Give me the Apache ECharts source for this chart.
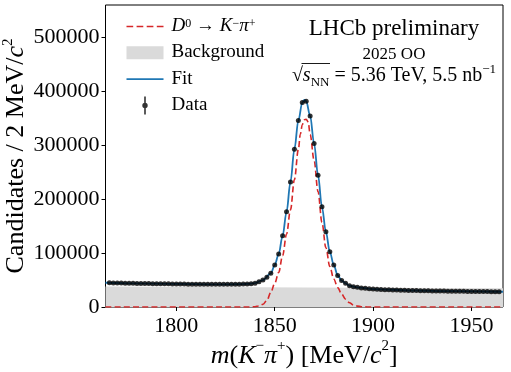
<!DOCTYPE html>
<html><head><meta charset="utf-8">
<script src="https://cdn.jsdelivr.net/npm/echarts@6/dist/echarts.min.js"></script>
<style>html,body{margin:0;padding:0;background:#fff}#c{width:511px;height:372px}</style>
</head><body><div id="c"></div>
<script>
// ---- data ----
const massBins = [1766,1768,1770,1772,1774,1776,1778,1780,1782,1784,1786,1788,1790,1792,1794,1796,1798,1800,
1802,1804,1806,1808,1810,1812,1814,1816,1818,1820,1822,1824,1826,1828,1830,1832,1834,1836,1838,1840,
1842,1844,1846,1848,1850,1852,1854,1856,1858,1860,1862,1864,1866,1868,1870,1872,1874,1876,1878,1880,
1882,1884,1886,1888,1890,1892,1894,1896,1898,1900,1902,1904,1906,1908,1910,1912,1914,1916,1918,1920,
1922,1924,1926,1928,1930,1932,1934,1936,1938,1940,1942,1944,1946,1948,1950,1952,1954,1956,1958,1960,1962,1964];
const counts = [44800,44600,44400,44300,44100,44000,43900,43700,43600,43500,43400,43300,43200,43100,43000,42900,42800,42700,
42600,42500,42400,42300,42200,42200,42100,42100,42000,42000,42000,42000,42000,42100,42200,42300,42500,42700,43100,44200,
46600,50000,55000,62400,77800,98100,132000,176500,232000,292600,345700,379100,381500,354300,303100,244400,185700,139400,102400,77800,
58500,49000,43900,39400,37600,36500,35400,34600,33900,33300,32900,32500,32200,31900,31600,31400,31200,31000,30800,30600,
30400,30300,30100,30000,29900,29700,29600,29500,29400,29300,29200,29100,29000,28900,28800,28800,28700,28600,28600,28500,28400,28400];

const fitMass = [1764,1780,1800,1820,1830,1836,1840,1844,1848,1850,1852,1854,1856,1858,1860,1862,1864,1865,1866,1868,1870,1872,1874,1876,1878,1880,1882,1884,1886,1888,1892,1900,1920,1940,1966];
const fitVals = [45000,43700,42700,42000,42200,42700,44200,50000,62400,77800,98100,132000,176500,232000,292600,345700,379000,384000,381500,354300,303100,244400,185700,139400,102400,77800,58500,49000,43900,39400,36500,33300,30600,29300,28300];

const sigMass = [1764,1834,1838,1840,1842,1844,1846,1848,1850,1852,1854,1856,1858,1860,1862,1863,1864,1865,1866,1867,1868,1870,1872,1874,1876,1878,1880,1882,1884,1886,1888,1890,1892,1894,1896,1898,1966];
const sigVals = [0,0,100,600,2000,5000,12000,27000,44000,64000,95000,135000,180000,236000,292000,320000,338000,347000,348000,343000,320000,272000,214000,157000,110000,75000,52000,36000,24000,14500,8000,3800,1600,600,150,0,0];

const bkgMass = [1764,1866,1966];
const bkgVals = [37800,36000,35000];

const xTicks = [1800,1850,1900,1950];
const yTicks = [0,100000,200000,300000,400000,500000];

// ---- chart ----
const FONT = '"Liberation Serif","DejaVu Serif",serif';
function richSet(size, supSize, lh){
  return {
    n:{fontFamily:FONT,fontSize:size,color:'#000',lineHeight:lh,verticalAlign:'bottom'},
    i:{fontFamily:FONT,fontSize:size,fontStyle:'italic',color:'#000',lineHeight:lh,verticalAlign:'bottom'},
    sup:{fontFamily:FONT,fontSize:supSize,color:'#000',lineHeight:supSize,verticalAlign:'top'}
  };
}
const legendLabels = {
  sig: '{i|D}{sup|0}{n| → }{i|K}{sup|−}{i|π}{sup|+}',
  bkg: '{n|Background}',
  fit: '{n|Fit}',
  data: '{n|Data}'
};

const chart = echarts.init(document.getElementById('c'), null, {renderer:'canvas'});
chart.setOption({
  animation:false,
  grid:{left:105.5, right:8, top:5, bottom:65, outerBoundsMode:'none', containLabel:false,
        show:true, borderColor:'#000', borderWidth:1, backgroundColor:'transparent'},
  xAxis:{
    type:'value', min:1764, max:1966,
    axisLine:{show:false},
    splitLine:{show:false},
    axisTick:{show:true, inside:false, length:4, customValues:xTicks, lineStyle:{color:'#000',width:1}},
    axisLabel:{customValues:xTicks, margin:8, fontFamily:FONT, fontSize:22, color:'#000', formatter:v=>String(v)},
    name:'{i|m}{n|(}{i|K}{sup|−}{i|π}{sup|+}{n|) [MeV/}{i|c}{sup|2}{n|]}',
    nameLocation:'middle', nameGap:32, nameMoveOverlap:false,
    nameTextStyle:{rich:richSet(26,15,30)}
  },
  yAxis:{
    type:'value', min:0, max:560000,
    axisLine:{show:false},
    splitLine:{show:false},
    axisTick:{show:true, inside:false, length:4, customValues:yTicks, lineStyle:{color:'#000',width:1}},
    axisLabel:{customValues:yTicks, margin:6, fontFamily:FONT, fontSize:22, color:'#000', formatter:v=>String(v)},
    name:'{n|Candidates / 2 MeV/}{i|c}{sup|2}',
    nameLocation:'middle', nameGap:76, nameRotate:90, nameMoveOverlap:false,
    nameTextStyle:{rich:richSet(26,15,29)}
  },
  legend:{
    orient:'vertical', left:121.5, top:11.5, itemWidth:37, itemHeight:18, itemGap:7.3,
    selectedMode:false,
    data:[
      {name:'sig', icon:'path://M0,0H6.7V1.6H0Z M10.1,0H16.8V1.6H10.1Z M20.2,0H26.9V1.6H20.2Z M30.3,0H37V1.6H30.3Z', itemStyle:{color:'#d62728', borderWidth:0}},
      {name:'bkg', icon:'path://M0,0H37V13H0Z', itemStyle:{color:'#dadada', borderWidth:0}},
      {name:'fit', icon:'path://M0,0H37V1.7H0Z', itemStyle:{color:'#1f77b4', borderWidth:0}},
      {name:'data', icon:'path://M2.2,0H3.8V18H2.2Z M0.3,9A2.7,2.7 0 1,1 5.7,9A2.7,2.7 0 1,1 0.3,9Z', itemStyle:{color:'#000', borderWidth:0}}
    ],
    formatter:name=>legendLabels[name],
    textStyle:{fontFamily:FONT, fontSize:19, color:'#000', padding:[0,0,0,3], rich:richSet(19,12,18)}
  },
  series:[
    {name:'bkg', type:'line', z:1, symbol:'none', silent:true,
     data:bkgMass.map((m,i)=>[m,bkgVals[i]]),
     lineStyle:{width:0}, itemStyle:{color:'#dadada'}, areaStyle:{color:'#dadada', opacity:1}},
    {name:'sig', type:'line', z:2, symbol:'none', smooth:0.35, smoothMonotone:'x',
     data:sigMass.map((m,i)=>[m,sigVals[i]]),
     itemStyle:{color:'#d62728'},
     lineStyle:{color:'#d62728', width:1.6, type:[6,3.2]}},
    {name:'fit', type:'line', z:3, symbol:'none', smooth:0.35, smoothMonotone:'x',
     data:fitMass.map((m,i)=>[m,fitVals[i]]),
     itemStyle:{color:'#1f77b4'},
     lineStyle:{color:'#1f77b4', width:1.8}},
    {name:'data', type:'scatter', z:4, symbol:'circle', symbolSize:5,
     data:massBins.map((m,i)=>[m,counts[i]]),
     itemStyle:{color:'#000'}}
  ],
  graphic:[
    {type:'text', x:394, y:29, style:{text:'LHCb preliminary', fontFamily:FONT, fontSize:23, fill:'#000', align:'center', verticalAlign:'middle'}},
    {type:'text', x:394, y:55, style:{text:'2025 OO', fontFamily:FONT, fontSize:17, fill:'#000', align:'center', verticalAlign:'middle'}},
    {type:'text', x:394, y:76, style:{
      text:'{n|√}{i|s}{sub|NN}{n| = 5.36 TeV, 5.5 nb}{sup|−1}', align:'center', verticalAlign:'middle',
      rich:{
        n:{fontFamily:FONT,fontSize:20,fill:'#000',lineHeight:26,verticalAlign:'middle'},
        i:{fontFamily:FONT,fontSize:20,fontStyle:'italic',fill:'#000',lineHeight:26,verticalAlign:'middle'},
        sub:{fontFamily:FONT,fontSize:13,fill:'#000',lineHeight:13,verticalAlign:'bottom'},
        sup:{fontFamily:FONT,fontSize:13,fill:'#000',lineHeight:13,verticalAlign:'top'}
      }}},
    {type:'line', shape:{x1:301.5, y1:63.5, x2:330, y2:63.5}, style:{stroke:'#000', lineWidth:0.9}}
  ]
});
</script></body></html>
